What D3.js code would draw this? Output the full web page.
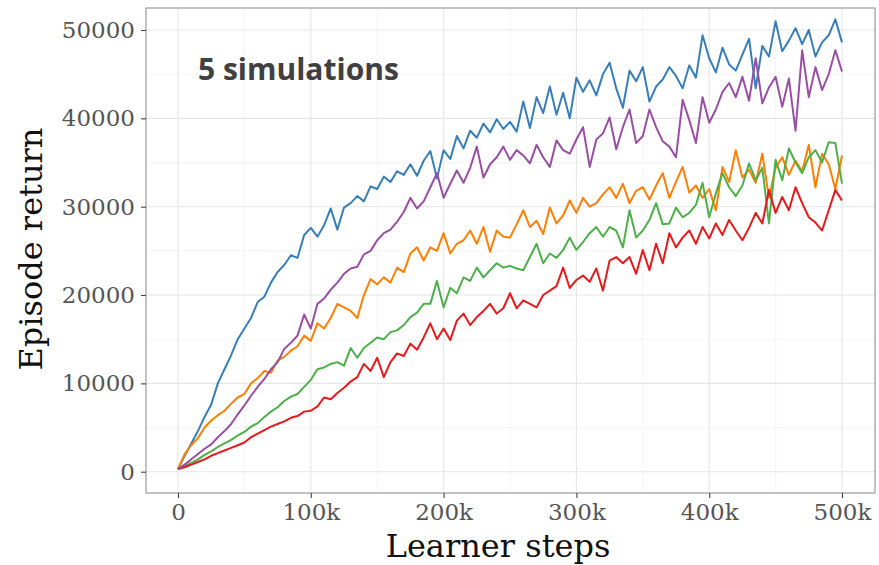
<!DOCTYPE html>
<html>
<head>
<script src="https://d3js.org/d3.v7.min.js"></script>
<style>
  body { margin: 0; background: #fff; }
  svg { display: block; }
</style>
</head>
<body>
<svg id="chart"></svg>
<script>
// learner steps (every 5k) and episode return per run, in thousands
var steps = d3.range(0, 500001, 5000);

var blue = [
  0.3,1.8,3.2,4.6,6.2,7.6,10.0,11.6,13.2,15.0,
  16.2,17.4,19.2,19.8,21.4,22.6,23.4,24.5,24.2,26.8,
  27.6,26.6,27.9,29.8,27.4,29.9,30.4,31.2,30.6,32.3,
  32.0,33.4,32.8,34.0,33.6,34.8,33.5,35.2,36.3,33.2,
  36.4,35.4,38.0,36.6,38.6,37.8,39.4,38.4,39.9,38.8,
  39.6,38.5,41.9,38.9,42.4,40.6,43.6,40.4,42.9,40.0,
  44.6,43.0,44.3,42.6,45.0,46.3,43.4,41.2,45.4,44.2,
  45.8,41.9,43.6,44.4,45.8,44.8,43.4,46.0,44.6,49.4,
  46.8,45.2,48.0,46.1,45.4,47.2,49.0,43.4,48.2,47.0,
  51.0,47.6,48.8,50.2,48.4,50.0,47.0,48.6,49.4,51.2,
  48.6];

var purple = [
  0.3,0.8,1.4,2.0,2.6,3.1,3.9,4.6,5.4,6.5,
  7.5,8.6,9.6,10.5,11.6,12.4,13.9,14.6,15.4,17.8,
  16.2,19.0,19.6,20.6,21.4,22.4,23.0,23.2,24.6,25.0,
  26.2,27.0,27.4,28.3,29.4,31.0,29.8,30.6,32.2,33.8,
  31.0,32.6,34.1,32.7,34.4,36.8,33.3,34.8,35.6,36.8,
  35.3,36.4,35.8,34.9,37.0,35.6,34.5,37.5,36.4,36.0,
  37.6,39.0,34.5,37.6,38.3,40.1,36.5,39.0,41.0,37.2,
  38.0,41.0,39.0,37.4,36.8,35.6,42.1,39.8,37.2,42.4,
  39.5,41.0,43.0,44.0,42.4,44.7,42.0,46.8,41.7,43.5,
  44.7,41.3,44.5,38.6,47.7,42.4,45.8,43.2,45.0,47.7,
  45.3];

var orange = [
  0.3,2.0,3.0,3.8,5.0,5.8,6.4,6.9,7.7,8.4,
  8.8,10.0,10.6,11.4,11.2,12.6,13.0,13.7,14.2,15.4,
  14.8,16.8,16.2,17.4,19.0,18.6,18.2,17.4,20.0,21.8,
  21.2,22.0,21.4,23.1,22.6,24.7,25.4,23.9,25.4,25.0,
  27.0,24.7,25.8,26.2,27.3,25.8,27.7,24.9,27.3,26.6,
  26.5,28.0,29.6,27.7,28.4,26.9,29.9,28.1,29.0,30.7,
  29.3,31.0,30.0,30.4,31.4,32.2,31.0,32.6,30.4,31.8,
  32.2,30.8,32.4,33.8,31.0,32.8,34.5,31.6,32.4,31.0,
  32.0,29.6,34.5,32.8,36.4,33.3,34.2,32.7,36.0,31.0,
  34.4,35.6,33.6,35.2,34.0,37.0,32.2,36.0,34.8,32.0,
  35.8];

var green = [
  0.3,0.6,1.0,1.4,1.9,2.3,2.8,3.2,3.6,4.1,
  4.5,5.1,5.5,6.2,6.8,7.3,8.0,8.5,8.8,9.6,
  10.4,11.6,11.8,12.2,12.4,12.0,14.0,12.9,14.0,14.6,
  15.2,15.0,15.8,16.0,16.6,17.5,18.0,19.0,19.0,21.6,
  18.6,20.8,20.2,22.0,21.6,23.1,22.0,22.8,23.6,23.1,
  23.3,23.0,22.8,24.3,25.8,23.6,24.7,24.2,25.1,26.5,
  25.1,26.0,27.0,27.7,26.6,27.7,27.3,25.4,29.6,26.5,
  27.3,28.5,30.4,28.0,28.1,29.9,28.8,29.3,30.2,32.7,
  28.8,31.5,33.8,32.2,31.2,32.4,34.9,33.0,34.4,28.1,
  35.3,33.0,36.6,35.0,33.8,35.6,36.4,35.0,37.3,37.2,
  32.6];

var red = [
  0.3,0.5,0.8,1.1,1.4,1.8,2.1,2.4,2.7,3.0,
  3.3,3.9,4.3,4.7,5.1,5.4,5.7,6.1,6.3,6.8,
  6.9,7.4,8.4,8.2,8.9,9.5,10.2,10.7,12.2,11.4,
  12.9,10.7,12.4,13.4,13.1,14.5,13.8,15.2,16.8,15.0,
  16.2,14.9,17.1,17.9,16.6,17.5,18.2,19.0,17.9,18.5,
  20.2,18.5,19.4,19.0,18.6,20.0,20.5,21.0,23.1,20.8,
  21.7,22.2,21.5,23.0,20.5,23.9,24.3,23.6,24.3,22.4,
  25.1,22.8,25.8,23.6,27.0,25.4,26.5,27.3,25.8,27.7,
  26.4,28.1,26.8,28.5,27.3,26.2,27.6,29.3,28.1,31.9,
  29.3,31.1,29.6,32.2,30.4,28.8,28.2,27.3,29.6,31.9,
  30.7];

var xTicks = [0, 100000, 200000, 300000, 400000, 500000];
var xTickLabels = ["0", "100k", "200k", "300k", "400k", "500k"];
var yTicks = [0, 10000, 20000, 30000, 40000, 50000];

var series = [
  { name: "blue", values: blue, color: "#377eb8" },
  { name: "orange", values: orange, color: "#ff7f00" },
  { name: "green", values: green, color: "#4daf4a" },
  { name: "red", values: red, color: "#e41a1c" },
  { name: "purple", values: purple, color: "#984ea3" }
];

var width = 879, height = 565;
var panel = { left: 146, right: 875, top: 8, bottom: 493 };

var svg = d3.select("#chart").attr("width", width).attr("height", height);

var x = d3.scaleLinear().domain([0, 500000]).range([178, 842]);
var y = d3.scaleLinear().domain([0, 50000]).range([471.7, 30]);

// grid
var grid = svg.append("g");
var xMinor = d3.range(50000, 500000, 100000);
var yMinor = d3.range(5000, 50000, 10000);
grid.selectAll(".xminor").data(xMinor).enter().append("line")
  .attr("x1", d => x(d)).attr("x2", d => x(d))
  .attr("y1", panel.top).attr("y2", panel.bottom)
  .attr("stroke", "#f2f2f2").attr("stroke-width", 0.8);
grid.selectAll(".yminor").data(yMinor).enter().append("line")
  .attr("x1", panel.left).attr("x2", panel.right)
  .attr("y1", d => y(d)).attr("y2", d => y(d))
  .attr("stroke", "#f2f2f2").attr("stroke-width", 0.8);
grid.selectAll(".xmajor").data(xTicks).enter().append("line")
  .attr("x1", d => x(d)).attr("x2", d => x(d))
  .attr("y1", panel.top).attr("y2", panel.bottom)
  .attr("stroke", "#e6e6e6").attr("stroke-width", 1.1);
grid.selectAll(".ymajor").data(yTicks).enter().append("line")
  .attr("x1", panel.left).attr("x2", panel.right)
  .attr("y1", d => y(d)).attr("y2", d => y(d))
  .attr("stroke", "#e6e6e6").attr("stroke-width", 1.1);

// lines
var line = d3.line()
  .x((d, i) => x(steps[i]))
  .y(d => y(d * 1000));

svg.append("g").selectAll("path").data(series).enter().append("path")
  .attr("d", d => line(d.values))
  .attr("fill", "none")
  .attr("stroke", d => d.color)
  .attr("stroke-width", 2)
  .attr("stroke-linejoin", "round");

// panel border
svg.append("rect")
  .attr("x", panel.left).attr("y", panel.top)
  .attr("width", panel.right - panel.left)
  .attr("height", panel.bottom - panel.top)
  .attr("fill", "none").attr("stroke", "#9a9a9a").attr("stroke-width", 1.2);

// axes
var xAxis = d3.axisBottom(x).tickValues(xTicks)
  .tickFormat((d, i) => xTickLabels[i]).tickSize(5).tickPadding(6);
var yAxis = d3.axisLeft(y).tickValues(yTicks)
  .tickFormat(d => String(d)).tickSize(5).tickPadding(6);

var gx = svg.append("g").attr("transform", "translate(0," + panel.bottom + ")").call(xAxis);
var gy = svg.append("g").attr("transform", "translate(" + panel.left + ",0)").call(yAxis);
[gx, gy].forEach(function(g) {
  g.select(".domain").remove();
  g.selectAll(".tick line").attr("stroke", "#444").attr("stroke-width", 1.1);
  g.selectAll(".tick text")
    .attr("fill", "#555")
    .style("font-family", "'DejaVu Serif', serif")
    .style("font-size", "23px");
});

// titles
svg.append("text")
  .attr("x", 498).attr("y", 557)
  .attr("text-anchor", "middle")
  .style("font-family", "'DejaVu Serif', serif")
  .style("font-size", "32px")
  .attr("fill", "#111")
  .text("Learner steps");

svg.append("text")
  .attr("transform", "translate(42,249) rotate(-90)")
  .attr("text-anchor", "middle")
  .style("font-family", "'DejaVu Serif', serif")
  .style("font-size", "32px")
  .attr("fill", "#111")
  .text("Episode return");

svg.append("text")
  .attr("x", 198).attr("y", 80)
  .style("font-family", "'Open Sans', sans-serif")
  .style("font-weight", 700)
  .style("font-size", "30px")
  .attr("fill", "#404040")
  .text("5 simulations");
</script>
</body>
</html>
